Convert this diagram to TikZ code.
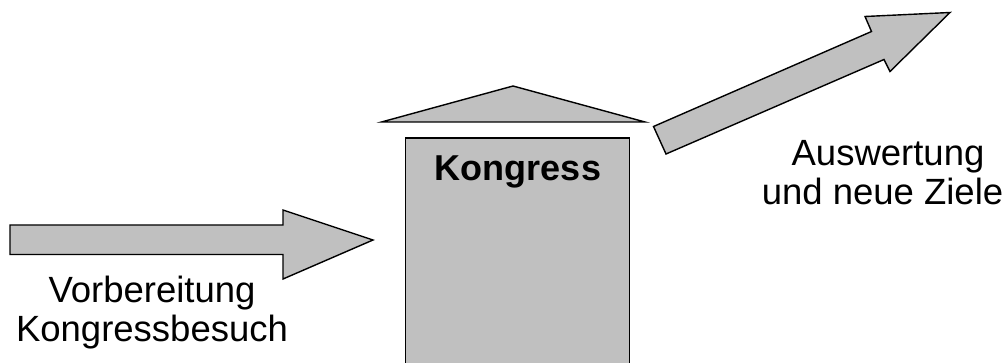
\documentclass[tikz,border=0pt]{standalone}
\usepackage{fontspec}
\setmainfont{Liberation Sans}
\definecolor{shapegray}{HTML}{C0C0C0}
\begin{document}
\begin{tikzpicture}[x=1pt,y=-1pt,
  shapestyle/.style={draw=black, fill=shapegray, line width=1.4pt, line join=miter},
  lbl/.style={anchor=base, inner sep=0pt, font=\fontsize{36.5}{40}\selectfont},
  title/.style={anchor=base, inner sep=0pt, font=\bfseries\fontsize{36}{38}\selectfont}]
\useasboundingbox (0,0) rectangle (1008,363);
\clip (0,0) rectangle (1008,363);
% Kongress building body
\node[shapestyle, line width=1.8pt, minimum width=224pt, minimum height=230pt, inner sep=0pt, anchor=north west] (box) at (404.5,137) {};
% roof
\draw[shapestyle] (381.5,122) -- (513,86) -- (645,122) -- cycle;
% left arrow
\draw[shapestyle] (10,225) -- (283,225) -- (283,210) -- (373,240) -- (283,279) -- (283,254.5) -- (10,254.5) -- cycle;
% right arrow
\draw[shapestyle] (653.5,126.5) -- (871.5,31.5) -- (865,16.5) -- (950,12.5) -- (890,71.5) -- (884,59.5) -- (666,154) -- cycle;
% labels
\node[title] (kongress) at (518,180.5) {Kongress};
\node[lbl] (vor1) at (152,302) {Vorbereitung};
\node[lbl] (vor2) at (152,341) {Kongressbesuch};
\node[lbl] (aus1) at (888,166) {Auswertung};
\node[lbl] (aus2) at (882.5,205) {und neue Ziele};
\end{tikzpicture}
\end{document}
